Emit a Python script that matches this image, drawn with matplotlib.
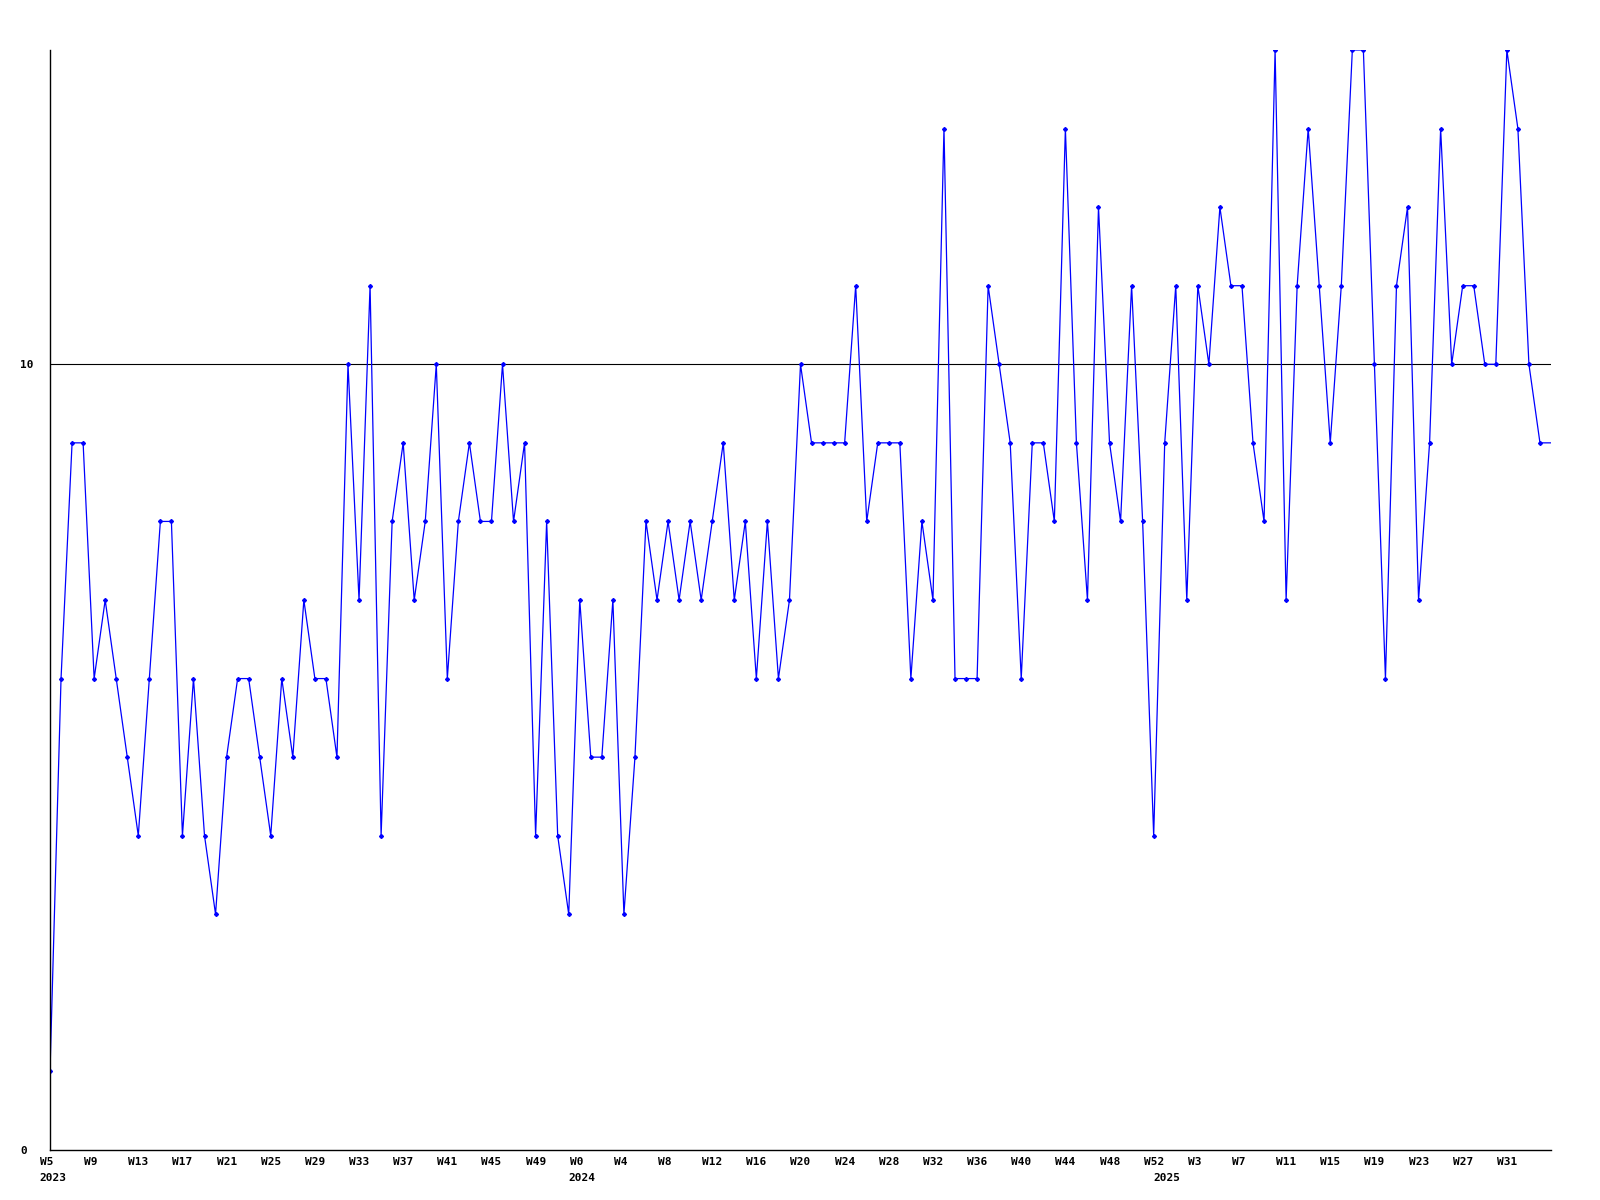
import numpy as np
import matplotlib
matplotlib.use("Agg")
import matplotlib.pyplot as plt
import matplotlib.transforms as mtransforms

# weekly counts, W5 2023 .. W35 2025 (last value only extends the line to the edge)
values = [1, 6, 9, 9, 6, 7, 6, 5, 4, 6,
          8, 8, 4, 6, 4, 3, 5, 6, 6, 5,
          4, 6, 5, 7, 6, 6, 5, 10, 7, 11,
          4, 8, 9, 7, 8, 10, 6, 8, 9, 8,
          8, 10, 8, 9, 4, 8, 4, 3, 7, 5,
          5, 7, 3, 5, 8, 7, 8, 7, 8, 7,
          8, 9, 7, 8, 6, 8, 6, 7, 10, 9,
          9, 9, 9, 11, 8, 9, 9, 9, 6, 8,
          7, 13, 6, 6, 6, 11, 10, 9, 6, 9,
          9, 8, 13, 9, 7, 12, 9, 8, 11, 8,
          4, 9, 11, 7, 11, 10, 12, 11, 11, 9,
          8, 14, 7, 11, 13, 11, 9, 11, 14, 14,
          10, 6, 11, 12, 7, 9, 13, 10, 11, 11,
          10, 10, 14, 13, 10, 9, 9]

week_labels = ["W5", "W9", "W13", "W17", "W21", "W25", "W29", "W33", "W37",
               "W41", "W45", "W49",
               "W0", "W4", "W8", "W12", "W16", "W20", "W24", "W28", "W32",
               "W36", "W40", "W44", "W48", "W52",
               "W3", "W7", "W11", "W15", "W19", "W23", "W27", "W31"]
years = ["2023", "2024", "2025"]
year_start = [0, 48, 101]   # index of first week of each year

y_ticks = [0, 10]

x = np.arange(len(values))
font = dict(family="DejaVu Sans Mono", weight="bold", size=8)

fig = plt.figure(figsize=(16, 12), dpi=100)
ax = fig.add_axes([50/1600, 50/1200, 1501/1600, 1100/1200])

ax.plot(x, values, color="#0000ff", lw=0.9, marker="D", ms=2,
        markevery=list(range(len(values) - 1)))
ax.axhline(10, color="black", lw=0.8, zorder=0)

ax.set_xlim(0, len(values) - 1)
ax.set_ylim(0, 14)

for s in ["top", "right"]:
    ax.spines[s].set_visible(False)
ax.spines["left"].set_linewidth(1)
ax.spines["bottom"].set_linewidth(1)

ax.set_xticks(np.arange(0, len(week_labels) * 4, 4))
ax.set_xticklabels(week_labels, **font)
ax.tick_params(axis="x", length=0, pad=5)
shift = mtransforms.ScaledTranslation(-10/100, 0, fig.dpi_scale_trans)
for lbl in ax.get_xticklabels():
    lbl.set_ha("left")
    lbl.set_transform(lbl.get_transform() + shift)

ax.set_yticks(y_ticks)
ax.set_yticklabels([str(v) for v in y_ticks], **font)
ax.tick_params(axis="y", length=0, pad=21.6)
for lbl in ax.get_yticklabels():
    lbl.set_ha("left")

trans = mtransforms.blended_transform_factory(ax.transData, ax.transAxes)
for yr, idx in zip(years, year_start):
    ax.text(idx, 0, yr, transform=trans + mtransforms.ScaledTranslation(-11/100, -23/100, fig.dpi_scale_trans),
            ha="left", va="top", **font)

fig.savefig("out.png", dpi=100)
